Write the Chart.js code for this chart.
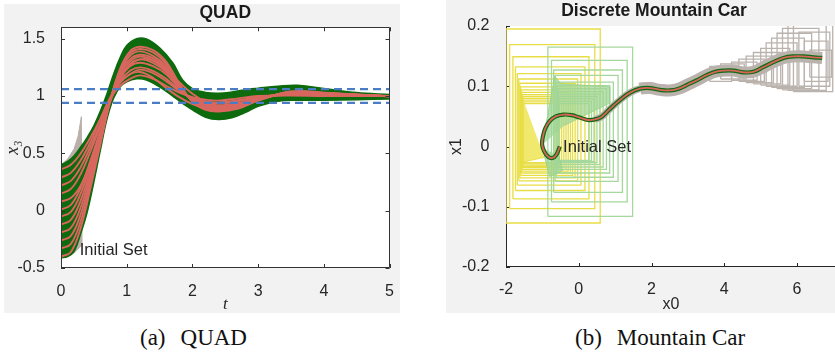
<!DOCTYPE html>
<html><head><meta charset="utf-8">
<script src="https://cdn.jsdelivr.net/npm/chart.js@4.4.0/dist/chart.umd.min.js"></script>
<style>
html,body{margin:0;padding:0;background:#fff;width:835px;height:354px;overflow:hidden;position:relative;}
#c1{position:absolute;left:4px;top:4px;width:396px;height:309px;}
#c2{position:absolute;left:446px;top:0px;width:390px;height:313px;}
.cap{position:absolute;font-family:"Liberation Serif","Times New Roman",serif;font-size:23px;line-height:23px;color:#111;white-space:nowrap;}
</style></head><body>
<canvas id="c1" width="396" height="309"></canvas>
<canvas id="c2" width="390" height="313"></canvas>
<div class="cap" style="left:140px;top:326px">(a)<span style="margin-left:15px">QUAD</span></div>
<div class="cap" style="left:575px;top:326px">(b)<span style="margin-left:15px">Mountain Car</span></div>
<script>
// ---------------- QUAD data ----------------
const QUAD_XTICKS = [0, 1, 2, 3, 4, 5];
const QUAD_YTICKS = [-0.5, 0, 0.5, 1, 1.5];
const QUAD_T = [0,0.15,0.3,0.45,0.6,0.75,0.9,1.05,1.2,1.4,1.6,1.8,2.0,2.2,2.4,2.7,3.0,3.5,4.0,5.0];
const QUAD_TRAJ = [
  [-0.40,-0.36,-0.15,0.20,0.58,0.96,1.24,1.39,1.43,1.40,1.30,1.110,0.950,0.880,0.865,0.890,0.960,1.040,1.030,0.997],
  [-0.33,-0.29,-0.09,0.24,0.60,0.96,1.23,1.37,1.41,1.38,1.28,1.103,0.954,0.888,0.874,0.898,0.964,1.037,1.027,0.997],
  [-0.26,-0.22,-0.03,0.28,0.62,0.96,1.21,1.35,1.39,1.35,1.26,1.095,0.957,0.896,0.882,0.906,0.967,1.034,1.025,0.998],
  [-0.19,-0.15,0.03,0.32,0.64,0.97,1.20,1.32,1.36,1.33,1.24,1.088,0.961,0.904,0.891,0.915,0.971,1.030,1.022,0.998],
  [-0.05,-0.01,0.15,0.40,0.68,0.97,1.17,1.28,1.32,1.29,1.21,1.074,0.968,0.920,0.908,0.931,0.978,1.024,1.016,0.998],
  [0.01,0.05,0.20,0.44,0.70,0.97,1.16,1.26,1.29,1.26,1.19,1.066,0.972,0.928,0.917,0.939,0.982,1.021,1.014,0.999],
  [0.15,0.19,0.32,0.52,0.74,0.97,1.13,1.22,1.25,1.22,1.15,1.052,0.979,0.944,0.934,0.955,0.989,1.015,1.008,0.999],
  [0.22,0.26,0.38,0.56,0.76,0.98,1.12,1.19,1.23,1.20,1.13,1.045,0.983,0.952,0.943,0.964,0.993,1.011,1.005,0.999],
  [0.36,0.40,0.50,0.64,0.80,0.98,1.09,1.15,1.18,1.15,1.09,1.030,0.990,0.968,0.960,0.980,1.000,1.005,1.000,1.000],
  [0.08,0.11,0.22,0.43,0.68,0.95,1.15,1.27,1.32,1.31,1.23,1.120,1.020,0.950,0.915,0.930,0.980,1.030,1.025,1.000],
  [0.29,0.33,0.44,0.60,0.80,0.99,1.12,1.19,1.21,1.16,1.07,0.990,0.930,0.895,0.885,0.910,0.965,1.025,1.020,1.000],
  [-0.12,-0.08,0.09,0.36,0.66,0.97,1.19,1.30,1.345,1.31,1.22,1.081,0.965,0.912,0.900,0.923,0.975,1.027,1.019,0.998]
];
const BAND_T  = [0,0.1,0.2,0.3,0.4,0.5,0.6,0.7,0.8,0.9,1.0,1.15,1.3,1.5,1.7,1.85,2.0,2.2,2.4,2.6,2.8,3.0,3.3,3.6,4.0,4.5,5.0];
const BAND_UP = [0.40,0.43,0.48,0.555,0.64,0.74,0.87,1.02,1.19,1.335,1.44,1.50,1.497,1.42,1.29,1.14,1.065,1.032,1.025,1.035,1.055,1.068,1.085,1.093,1.066,1.03,1.013];
const BAND_LO = [-0.41,-0.40,-0.355,-0.20,-0.01,0.25,0.53,0.80,0.98,1.08,1.125,1.15,1.14,1.08,1.00,0.935,0.88,0.815,0.795,0.81,0.855,0.91,0.955,0.963,0.963,0.968,0.975];
const INIT_T = [0,0.10,0.20,0.26,0.31,0.32,0.20,0];
const INIT_V = [0.40,0.45,0.54,0.65,0.82,-0.30,-0.37,-0.41];
const SPEC_LEVELS = [0.94, 1.06];

// ---------------- Mountain car data ----------------
const MC_XTICKS = [-2, 0, 2, 4, 6];
const MC_YTICKS = [-0.2, -0.1, 0, 0.1, 0.2];
const MC_X = [-0.52,-0.62,-0.72,-0.84,-0.95,-1.01,-0.98,-0.92,-0.80,-0.63,-0.42,-0.20,0.03,0.25,0.45,0.62,0.85,1.13,1.40,1.68,1.96,2.23,2.50,2.75,3.00,3.25,3.50,3.75,4.00,4.25,4.53,4.80,5.08,5.35,5.63,5.90,6.18,6.45,6.69];
const MC_Y = [0.000,-0.014,-0.019,-0.017,-0.008,0.004,0.018,0.030,0.042,0.050,0.053,0.052,0.048,0.044,0.045,0.049,0.062,0.077,0.089,0.096,0.097,0.094,0.093,0.096,0.103,0.110,0.118,0.124,0.126,0.126,0.123,0.124,0.132,0.140,0.147,0.1495,0.1495,0.148,0.147];
const GRAY_START = 14;
// boxes: [xmin, xmax, ymin, ymax]
const YELLOW_BOXES = [
  [-2.00,0.59,-0.127,0.195],[-1.90,0.44,-0.103,0.169],[-1.81,0.28,-0.087,0.149],[-1.74,0.17,-0.073,0.132],
  [-1.69,0.06,-0.064,0.121],[-1.65,-0.03,-0.057,0.112],[-1.62,-0.10,-0.052,0.105],[-1.60,-0.17,-0.048,0.099],
  [-1.58,-0.23,-0.044,0.094],[-1.57,-0.29,-0.041,0.090],[-1.56,-0.35,-0.038,0.086],[-1.55,-0.41,-0.035,0.083],
  [-1.54,-0.47,-0.033,0.080],[-1.54,-0.53,-0.031,0.077],[-1.54,-0.60,-0.029,0.074],[-1.54,-0.67,-0.027,0.071]
];
const YELLOW_FAN_X = [-1.54,-1.54,-0.95];
const YELLOW_FAN_Y = [0.080,-0.026,-0.018];
const GREEN_BOXES = [
  [-0.85,1.48,-0.116,0.165],[-0.75,1.33,-0.092,0.143],[-0.69,1.20,-0.076,0.127],[-0.65,1.08,-0.058,0.118],
  [-0.62,0.95,-0.051,0.107],[-0.60,0.85,-0.044,0.101],[-0.58,0.76,-0.038,0.096],[-0.57,0.67,-0.034,0.091],
  [-0.56,0.58,-0.030,0.087],[-0.55,0.50,-0.027,0.083],[-0.55,0.42,-0.025,0.079],[-0.55,0.35,-0.024,0.075],
  [-0.56,0.28,-0.023,0.071]
];
const GREEN_FAN_UP_X = [-1.00,-0.66,-0.50,0.85,0.85,-0.40];
const GREEN_FAN_UP_Y = [0.003,0.117,0.104,0.099,0.072,0.035];
const GREEN_FAN_LO_X = [-1.00,-0.80,-0.45,-0.55];
const GREEN_FAN_LO_Y = [-0.003,-0.050,-0.040,-0.015];
const GRAY_BOXES = [
  [3.60,4.20,0.108,0.133],[3.90,4.55,0.112,0.137],[4.20,4.90,0.110,0.140],[4.40,5.10,0.108,0.145],
  [4.60,5.35,0.106,0.150],[4.80,5.55,0.104,0.156],[5.00,5.80,0.102,0.163],[5.15,6.00,0.100,0.172],
  [5.30,6.20,0.098,0.180],[5.45,6.40,0.096,0.188],[5.60,6.60,0.094,0.196],[5.75,6.80,0.093,0.201],
  [5.90,6.98,0.091,0.202],[6.05,6.90,0.100,0.190],[6.20,6.85,0.108,0.175],[6.35,6.95,0.115,0.160]
];

// ---------------- helpers ----------------
const pts = (xs, ys) => xs.map((x, i) => ({x: x, y: ys[i]}));
const boxPts = b => [{x:b[0],y:b[2]},{x:b[1],y:b[2]},{x:b[1],y:b[3]},{x:b[0],y:b[3]},{x:b[0],y:b[2]}];
const SANS = '"Liberation Sans", Arial, Helvetica, sans-serif';
const SERIF = '"Liberation Serif", "Times New Roman", serif';
const plainNum = v => String(Math.round(v * 1000) / 1000);

Chart.defaults.font.family = SANS;
Chart.defaults.color = '#262626';
Chart.defaults.animation = false;
Chart.defaults.events = [];
Chart.defaults.elements.point.radius = 0;
Chart.defaults.elements.point.hoverRadius = 0;
Chart.defaults.plugins.legend.display = false;
Chart.defaults.plugins.tooltip.enabled = false;

const frame = {
  id: 'frame',
  beforeDraw(chart, args, o) {
    const {ctx, chartArea: a, width, height} = chart;
    ctx.save();
    ctx.fillStyle = o.bg; ctx.fillRect(0, 0, width, height);
    ctx.fillStyle = '#ffffff'; ctx.fillRect(a.left, a.top, a.right - a.left, a.bottom - a.top);
    ctx.restore();
  },
  beforeDatasetsDraw(chart, args, o) { if (!o.axesOnTop) drawAxes(chart, o); },
  afterDraw(chart, args, o) {
    if (o.axesOnTop) drawAxes(chart, o);
    const {ctx, scales} = chart;
    ctx.save();
    (o.texts || []).forEach(t => {
      ctx.font = (t.bold ? 'bold ' : '') + t.size + 'px ' + SANS;
      ctx.fillStyle = t.color || '#262626';
      ctx.textAlign = t.align || 'left';
      ctx.textBaseline = t.baseline || 'alphabetic';
      const px = t.abs ? t.x : scales.x.getPixelForValue(t.x);
      const py = t.abs ? t.y : scales.y.getPixelForValue(t.y);
      ctx.fillText(t.text, px, py);
    });
    ctx.restore();
  }
};
function drawAxes(chart, o) {
  const {ctx, chartArea: a, scales} = chart;
  ctx.save();
  ctx.strokeStyle = o.axisColor; ctx.lineWidth = 1;
  ctx.beginPath();
  if (o.box) {
    ctx.rect(Math.round(a.left) + 0.5, Math.round(a.top) + 0.5, Math.round(a.right - a.left) - 1, Math.round(a.bottom - a.top) - 1);
  } else {
    ctx.moveTo(Math.round(a.left) + 0.5, a.top);
    ctx.lineTo(Math.round(a.left) + 0.5, Math.round(a.bottom) - 0.5);
    ctx.lineTo(a.right, Math.round(a.bottom) - 0.5);
  }
  ctx.stroke();
  const L = o.tickLen;
  ctx.beginPath();
  scales.x.ticks.forEach(t => {
    const px = Math.round(scales.x.getPixelForValue(t.value)) + 0.5;
    ctx.moveTo(px, a.bottom); ctx.lineTo(px, a.bottom - L);
    if (o.box) { ctx.moveTo(px, a.top); ctx.lineTo(px, a.top + L); }
  });
  scales.y.ticks.forEach(t => {
    const py = Math.round(scales.y.getPixelForValue(t.value)) + 0.5;
    ctx.moveTo(a.left, py); ctx.lineTo(a.left + L, py);
    if (o.box) { ctx.moveTo(a.right, py); ctx.lineTo(a.right - L, py); }
  });
  ctx.stroke();
  ctx.restore();
}

// ---------------- QUAD chart ----------------
const GREEN = '#0d6a0d', SALMON = '#d9675f', BLUE = '#4a7dc3', GRAYI = '#b9b0ab';
const quadDatasets = [];
SPEC_LEVELS.forEach(v => quadDatasets.push({
  data: [{x: QUAD_XTICKS[0], y: v}, {x: QUAD_XTICKS[QUAD_XTICKS.length - 1], y: v}],
  borderColor: BLUE, borderWidth: 2.2, borderDash: [8, 5], tension: 0, order: 0
}));
QUAD_TRAJ.forEach(tr => quadDatasets.push({
  data: pts(QUAD_T, tr), borderColor: SALMON, borderWidth: 1.9, tension: 0.4, order: 1
}));
quadDatasets.push({data: pts(BAND_T, BAND_UP), borderColor: GREEN, borderWidth: 1.5, tension: 0.4, order: 2});
quadDatasets.push({data: pts(BAND_T, BAND_LO), borderColor: GREEN, borderWidth: 1.5, tension: 0.4, order: 2,
  fill: '-1', backgroundColor: GREEN});
quadDatasets.push({data: pts(INIT_T, INIT_V), borderColor: GRAYI, borderWidth: 1, tension: 0, order: 3,
  fill: 'shape', backgroundColor: GRAYI});

new Chart(document.getElementById('c1'), {
  type: 'line',
  data: {datasets: quadDatasets},
  plugins: [frame],
  options: {
    responsive: false,
    layout: {padding: {left: 0, right: 6, top: 0, bottom: 0}},
    plugins: {
      title: {display: true, text: 'QUAD', fullSize: false, color: '#1a1a1a',
        font: {size: 17.5, weight: 'bold', family: SANS, lineHeight: 1.1}, padding: {top: 0, bottom: 4}},
      frame: {bg: '#f2f2f2', axisColor: '#333333', box: true, tickLen: 4, axesOnTop: true,
        texts: [{text: 'Initial Set', x: 0.285, y: -0.387, size: 16.5}]}
    },
    scales: {
      x: {type: 'linear', min: 0, max: 5,
        grid: {display: false}, border: {display: false},
        afterBuildTicks: s => { s.ticks = QUAD_XTICKS.map(v => ({value: v})); },
        afterFit: s => { s.height = 45; },
        ticks: {font: {size: 16}, color: '#262626', padding: 6, maxRotation: 0, callback: plainNum},
        title: {display: true, text: 't', color: '#262626', padding: {top: 0, bottom: 0},
          font: {family: SERIF, style: 'italic', size: 17, lineHeight: 1}}
      },
      y: {type: 'linear', min: -0.5, max: 1.6,
        grid: {display: false}, border: {display: false},
        afterBuildTicks: s => { s.ticks = QUAD_YTICKS.map(v => ({value: v})); },
        afterFit: s => { s.width = 57; },
        ticks: {font: {size: 16}, color: '#262626', padding: 8, callback: plainNum},
        title: {display: true, text: 'x\u2083', color: '#262626', padding: {top: 0, bottom: 0},
          font: {family: SERIF, style: 'italic', size: 18, lineHeight: 1}}
      }
    }
  }
});

// ---------------- Mountain car chart ----------------
const YEL = '#e8de44', LGREEN = '#a5d89c', GRAYB = '#bab2ad', TUBEG = '#0f6a10', RED = '#d9645b';
const boxDS = (b, color, order) => ({data: boxPts(b), borderColor: color, borderWidth: 1.3, tension: 0, order: order});
const mcDatasets = [];
YELLOW_BOXES.forEach(b => mcDatasets.push(boxDS(b, YEL, 10)));
mcDatasets.push({data: pts(YELLOW_FAN_X, YELLOW_FAN_Y), fill: 'shape', backgroundColor: 'rgba(238,228,85,0.85)',
  borderColor: 'rgba(232,222,70,0.9)', borderWidth: 1, tension: 0, order: 9});
GREEN_BOXES.forEach(b => mcDatasets.push(boxDS(b, LGREEN, 8)));
mcDatasets.push({data: pts(GREEN_FAN_UP_X, GREEN_FAN_UP_Y), fill: 'shape', backgroundColor: 'rgba(160,214,150,0.75)',
  borderColor: 'rgba(150,210,140,0.8)', borderWidth: 1, tension: 0, order: 7});
mcDatasets.push({data: pts(GREEN_FAN_LO_X, GREEN_FAN_LO_Y), fill: 'shape', backgroundColor: 'rgba(160,214,150,0.75)',
  borderColor: 'rgba(150,210,140,0.8)', borderWidth: 1, tension: 0, order: 7});
GRAY_BOXES.forEach(b => mcDatasets.push(boxDS(b, GRAYB, 6)));
mcDatasets.push({data: pts(MC_X.slice(GRAY_START), MC_Y.slice(GRAY_START)), borderColor: GRAYB, borderWidth: 11,
  tension: 0.4, order: 5, borderJoinStyle: 'round',
  segment: {borderWidth: c => (c.p0.parsed.x < 1.6 ? 7 : 12)}});
mcDatasets.push({data: pts(MC_X, MC_Y), borderColor: TUBEG, borderWidth: 4.2, tension: 0.4, order: 4, borderJoinStyle: 'round'});
mcDatasets.push({data: pts(MC_X, MC_Y), borderColor: RED, borderWidth: 1.8, tension: 0.4, order: 3});

new Chart(document.getElementById('c2'), {
  type: 'line',
  data: {datasets: mcDatasets},
  plugins: [frame],
  options: {
    responsive: false,
    layout: {padding: {left: 0, right: 0, top: 26, bottom: 0}},
    plugins: {
      title: {display: false},
      frame: {bg: '#f2f2f2', axisColor: '#262626', box: false, tickLen: 4, axesOnTop: false,
        texts: [
          {text: 'Initial Set', x: -0.43, y: -0.0095, size: 16.5},
          {text: 'Discrete Mountain Car', x: 208, y: 11.5, abs: true, bold: true, size: 17.5, align: 'center', baseline: 'middle', color: '#1a1a1a'}
        ]}
    },
    scales: {
      x: {type: 'linear', min: -2, max: 7.07,
        grid: {display: false}, border: {display: false},
        afterBuildTicks: s => { s.ticks = MC_XTICKS.map(v => ({value: v})); },
        afterFit: s => { s.height = 46; },
        ticks: {font: {size: 16}, color: '#262626', padding: 5, maxRotation: 0, callback: plainNum},
        title: {display: true, text: 'x0', color: '#262626', padding: {top: 0, bottom: 0},
          font: {size: 16, lineHeight: 1}}
      },
      y: {type: 'linear', min: -0.2, max: 0.2,
        grid: {display: false}, border: {display: false},
        afterBuildTicks: s => { s.ticks = MC_YTICKS.map(v => ({value: v})); },
        afterFit: s => { s.width = 60; },
        ticks: {font: {size: 16}, color: '#262626', padding: 8.5, callback: plainNum},
        title: {display: true, text: 'x1', color: '#262626', padding: {top: 3, bottom: 0},
          font: {size: 16, lineHeight: 1}}
      }
    }
  }
});
</script>
</body></html>
